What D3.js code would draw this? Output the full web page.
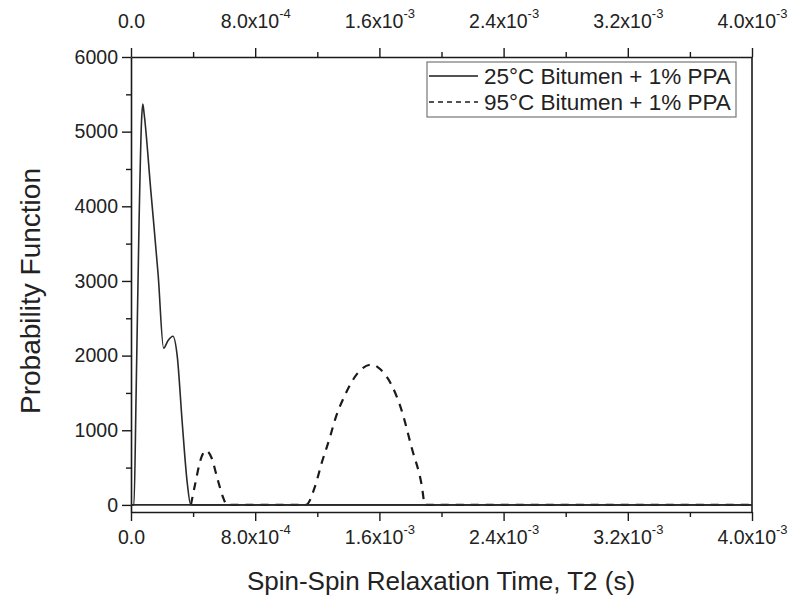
<!DOCTYPE html>
<html>
<head>
<meta charset="utf-8">
<script src="https://cdn.jsdelivr.net/npm/d3@7/dist/d3.min.js"></script>
<style>
  html, body { margin: 0; padding: 0; background: #fff; }
  svg { display: block; font-family: "Liberation Sans", Arial, sans-serif; }
</style>
</head>
<body>
<svg id="chart" width="794" height="597"></svg>
<script>
// T2 distribution, 25 °C sample (seconds, probability)
const t2At25 = [0, 1.9e-5, 3.3e-5, 5.2e-5, 6.8e-5, 7.6e-5, 8.4e-5, 1.28e-4, 1.75e-4, 2.10e-4, 2.38e-4, 2.70e-4, 2.98e-4, 3.30e-4, 3.62e-4, 3.85e-4, 4.0e-3];
const pAt25  = [0,      0,   1500,   3800,   5150,   5370,   5250,   4200,   3080,   2100,   2200,   2260,   1990,   1100,    300,      0,      0];

// T2 distribution, 95 °C sample
const t2At95 = [3.86e-4, 4.12e-4, 4.55e-4, 4.83e-4, 5.20e-4, 5.56e-4, 5.95e-4, 6.18e-4, 1.127e-3, 1.185e-3, 1.228e-3, 1.282e-3, 1.314e-3, 1.378e-3, 1.475e-3, 1.552e-3, 1.604e-3, 1.680e-3, 1.744e-3, 1.808e-3, 1.872e-3, 1.894e-3, 4.0e-3];
const pAt95  = [      0,     268,     647,     727,     625,     357,      90,       0,        0,      245,      560,      910,     1140,     1470,     1800,     1880,     1820,     1600,     1260,      765,      270,        0,      0];

const seriesNames = ["25\u00B0C Bitumen + 1% PPA", "95\u00B0C Bitumen + 1% PPA"];

// axis ticks
const xTickValues = [0, 8e-4, 1.6e-3, 2.4e-3, 3.2e-3, 4e-3];
const xTickBase   = ["0.0", "8.0x10", "1.6x10", "2.4x10", "3.2x10", "4.0x10"];
const xTickExp    = ["", "-4", "-3", "-3", "-3", "-3"];
const xMinorTicks = [4e-4, 1.2e-3, 2.0e-3, 2.8e-3, 3.6e-3];
const yTickValues = [0, 1000, 2000, 3000, 4000, 5000, 6000];
const yMinorTicks = [500, 1500, 2500, 3500, 4500, 5500];

const svg = d3.select("#chart");
const plotLeft = 131, plotRight = 752, plotTop = 57, plotBottom = 512;

const x = d3.scaleLinear().domain([0, 4e-3]).range([plotLeft, plotRight]);
const y = d3.scaleLinear().domain([-95, 6000]).range([plotBottom, plotTop]);

const ink = "#1a1a1a";
const labelFont = 19.5;

// frame: right edge has no ticks
svg.append("line").attr("x1", plotRight).attr("x2", plotRight).attr("y1", plotTop).attr("y2", plotBottom)
  .attr("stroke", ink).attr("stroke-width", 1.6);

// zero reference line
svg.append("line").attr("x1", plotLeft).attr("x2", plotRight).attr("y1", y(0)).attr("y2", y(0))
  .attr("stroke", "#2a2a2a").attr("stroke-width", 1.6);

function styleAxis(g) {
  g.select(".domain").attr("stroke", ink).attr("stroke-width", 1.6);
  g.selectAll(".tick line").attr("stroke", ink).attr("stroke-width", 1.4);
  g.selectAll(".tick text").attr("fill", "#222").attr("font-size", labelFont)
    .attr("font-family", "'Liberation Sans', Arial, sans-serif");
}

function sciLabels(g) {
  g.selectAll(".tick text").each(function (d, i) {
    const t = d3.select(this).text("");
    t.append("tspan").text(xTickBase[i]);
    if (xTickExp[i]) {
      t.append("tspan").attr("font-size", 13).attr("dy", "-0.75em").text(xTickExp[i]);
    }
  });
}

// minor ticks
const minorX = (orient, yPos) => svg.append("g")
  .attr("transform", `translate(0,${yPos})`)
  .call(orient(x).tickValues(xMinorTicks).tickSize(5).tickFormat(""))
  .call(g => { g.select(".domain").remove(); g.selectAll(".tick line").attr("stroke", ink).attr("stroke-width", 1.4); });
minorX(d3.axisBottom, plotBottom);
minorX(d3.axisTop, plotTop);
svg.append("g").attr("transform", `translate(${plotLeft},0)`)
  .call(d3.axisLeft(y).tickValues(yMinorTicks).tickSize(5).tickFormat(""))
  .call(g => { g.select(".domain").remove(); g.selectAll(".tick line").attr("stroke", ink).attr("stroke-width", 1.4); });

// major axes
svg.append("g").attr("transform", `translate(0,${plotBottom})`)
  .call(d3.axisBottom(x).tickValues(xTickValues).tickSize(9).tickSizeOuter(0).tickPadding(9))
  .call(styleAxis).call(sciLabels);
svg.append("g").attr("transform", `translate(0,${plotTop})`)
  .call(d3.axisTop(x).tickValues(xTickValues).tickSize(9).tickSizeOuter(0).tickPadding(20))
  .call(styleAxis).call(sciLabels);
svg.append("g").attr("transform", `translate(${plotLeft},0)`)
  .call(d3.axisLeft(y).tickValues(yTickValues).tickSize(9).tickSizeOuter(0).tickPadding(4).tickFormat(d3.format("d")))
  .call(styleAxis);

// curves
const line = d3.line().x(d => x(d[0])).y(d => y(d[1])).curve(d3.curveMonotoneX);
svg.append("path").datum(d3.zip(t2At95, pAt95)).attr("d", line)
  .attr("fill", "none").attr("stroke", ink).attr("stroke-width", 2.2).attr("stroke-dasharray", "8,7");
svg.append("path").datum(d3.zip(t2At25, pAt25)).attr("d", line)
  .attr("fill", "none").attr("stroke", "#2a2a2a").attr("stroke-width", 1.6);

// legend
const lg = svg.append("g");
lg.append("rect").attr("x", 427).attr("y", 62).attr("width", 309).attr("height", 55)
  .attr("fill", "#fff").attr("stroke", "#777").attr("stroke-width", 1.2);
seriesNames.forEach((name, i) => {
  const cy = 76 + i * 26;
  lg.append("line").attr("x1", 429).attr("x2", 478).attr("y1", cy).attr("y2", cy)
    .attr("stroke", ink).attr("stroke-width", i ? 1.6 : 1.4)
    .attr("stroke-dasharray", i ? "5,4" : null);
  lg.append("text").attr("x", 484).attr("y", cy + 8).attr("font-size", 22.5)
    .attr("fill", "#222").text(name);
});

// axis titles
svg.append("text").attr("x", 441).attr("y", 590).attr("text-anchor", "middle")
  .attr("font-size", 26).attr("fill", "#222").text("Spin-Spin Relaxation Time, T2 (s)");
svg.append("text").attr("transform", "translate(40,291) rotate(-90)").attr("text-anchor", "middle")
  .attr("font-size", 28).attr("fill", "#222").text("Probability Function");
</script>
</body>
</html>
